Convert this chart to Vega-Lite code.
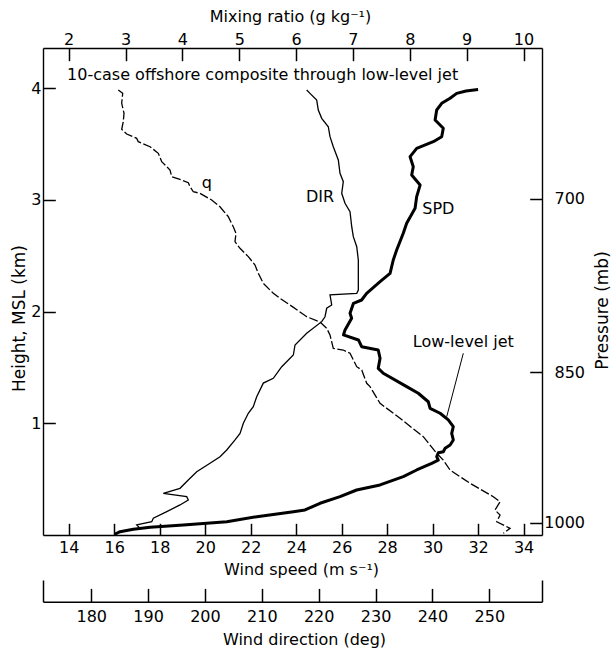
{
  "$schema": "https://vega.github.io/schema/vega-lite/v6.json",
  "width": 499,
  "height": 487,
  "autosize": {"type": "none"},
  "padding": {"left": 43, "top": 48, "right": 70, "bottom": 116},
  "background": "white",
  "config": {
    "view": {"stroke": null},
    "font": "DejaVu Sans",
    "axis": {
      "grid": false,
      "domainColor": "black",
      "domainWidth": 1.4,
      "ticks": true,
      "tickColor": "black",
      "tickOpacity": 1,
      "tickWidth": 1.5,
      "labelColor": "black",
      "titleColor": "black",
      "labelFont": "DejaVu Sans",
      "titleFont": "DejaVu Sans",
      "labelFontSize": 16,
      "titleFontSize": 16,
      "titleFontWeight": "normal",
      "labelFlush": false,
      "labelOverlap": false,
      "labelBound": false
    }
  },
  "datasets": {
    "spd": [
      {"speed": 32.00, "height": 3.989}, {"speed": 31.47, "height": 3.975}, {"speed": 31.06, "height": 3.954},
      {"speed": 30.77, "height": 3.910}, {"speed": 30.40, "height": 3.865}, {"speed": 30.18, "height": 3.805},
      {"speed": 30.11, "height": 3.716}, {"speed": 30.47, "height": 3.641}, {"speed": 30.40, "height": 3.566},
      {"speed": 30.03, "height": 3.521}, {"speed": 29.30, "height": 3.462}, {"speed": 29.01, "height": 3.387},
      {"speed": 29.15, "height": 3.297}, {"speed": 29.08, "height": 3.223}, {"speed": 29.45, "height": 3.133},
      {"speed": 29.30, "height": 3.029}, {"speed": 29.23, "height": 2.925}, {"speed": 28.86, "height": 2.791},
      {"speed": 28.71, "height": 2.701}, {"speed": 28.42, "height": 2.551}, {"speed": 28.27, "height": 2.462},
      {"speed": 28.13, "height": 2.343}, {"speed": 27.69, "height": 2.268}, {"speed": 27.10, "height": 2.164},
      {"speed": 26.88, "height": 2.104}, {"speed": 26.52, "height": 2.074}, {"speed": 26.37, "height": 1.985},
      {"speed": 26.44, "height": 1.940}, {"speed": 26.15, "height": 1.835}, {"speed": 26.08, "height": 1.791},
      {"speed": 26.74, "height": 1.746}, {"speed": 26.88, "height": 1.686}, {"speed": 27.61, "height": 1.656},
      {"speed": 27.69, "height": 1.582}, {"speed": 27.61, "height": 1.492}, {"speed": 27.83, "height": 1.448},
      {"speed": 28.86, "height": 1.328}, {"speed": 29.37, "height": 1.269}, {"speed": 29.81, "height": 1.193},
      {"speed": 29.89, "height": 1.134}, {"speed": 30.33, "height": 1.090}, {"speed": 30.69, "height": 1.030},
      {"speed": 30.91, "height": 0.970}, {"speed": 30.84, "height": 0.910}, {"speed": 30.91, "height": 0.851},
      {"speed": 30.77, "height": 0.806}, {"speed": 30.55, "height": 0.776}, {"speed": 30.47, "height": 0.746},
      {"speed": 30.25, "height": 0.737}, {"speed": 30.18, "height": 0.701}, {"speed": 30.25, "height": 0.671},
      {"speed": 29.96, "height": 0.642}, {"speed": 29.30, "height": 0.582}, {"speed": 28.71, "height": 0.522},
      {"speed": 27.69, "height": 0.448}, {"speed": 26.66, "height": 0.403}, {"speed": 25.93, "height": 0.343},
      {"speed": 25.05, "height": 0.284}, {"speed": 24.39, "height": 0.224}, {"speed": 23.88, "height": 0.209},
      {"speed": 22.27, "height": 0.164}, {"speed": 20.95, "height": 0.119}, {"speed": 19.04, "height": 0.090},
      {"speed": 17.58, "height": 0.069}, {"speed": 16.84, "height": 0.051}, {"speed": 16.26, "height": 0.030},
      {"speed": 16.04, "height": 0.009}
    ],
    "q": [
      {"mixing": 2.872, "height": 3.984}, {"mixing": 2.950, "height": 3.954}, {"mixing": 2.932, "height": 3.865},
      {"mixing": 2.973, "height": 3.775}, {"mixing": 2.960, "height": 3.700}, {"mixing": 2.932, "height": 3.632},
      {"mixing": 3.020, "height": 3.590}, {"mixing": 3.196, "height": 3.551}, {"mixing": 3.224, "height": 3.521},
      {"mixing": 3.430, "height": 3.476}, {"mixing": 3.576, "height": 3.417}, {"mixing": 3.636, "height": 3.342},
      {"mixing": 3.782, "height": 3.268}, {"mixing": 3.812, "height": 3.208}, {"mixing": 3.988, "height": 3.178},
      {"mixing": 4.104, "height": 3.154}, {"mixing": 4.134, "height": 3.118}, {"mixing": 4.192, "height": 3.073},
      {"mixing": 4.310, "height": 3.059}, {"mixing": 4.515, "height": 2.999}, {"mixing": 4.661, "height": 2.939},
      {"mixing": 4.807, "height": 2.850}, {"mixing": 4.895, "height": 2.760}, {"mixing": 4.943, "height": 2.701},
      {"mixing": 4.925, "height": 2.626}, {"mixing": 5.013, "height": 2.567}, {"mixing": 5.159, "height": 2.492},
      {"mixing": 5.277, "height": 2.417}, {"mixing": 5.335, "height": 2.343}, {"mixing": 5.423, "height": 2.253},
      {"mixing": 5.599, "height": 2.164}, {"mixing": 5.717, "height": 2.119}, {"mixing": 5.893, "height": 2.059},
      {"mixing": 6.187, "height": 1.954}, {"mixing": 6.420, "height": 1.907}, {"mixing": 6.538, "height": 1.851},
      {"mixing": 6.596, "height": 1.791}, {"mixing": 6.654, "height": 1.671}, {"mixing": 6.830, "height": 1.656},
      {"mixing": 6.948, "height": 1.627}, {"mixing": 7.066, "height": 1.507}, {"mixing": 7.154, "height": 1.477},
      {"mixing": 7.242, "height": 1.358}, {"mixing": 7.300, "height": 1.328}, {"mixing": 7.476, "height": 1.179},
      {"mixing": 7.828, "height": 1.045}, {"mixing": 8.237, "height": 0.880}, {"mixing": 8.473, "height": 0.731},
      {"mixing": 8.589, "height": 0.671}, {"mixing": 8.707, "height": 0.582}, {"mixing": 9.059, "height": 0.463},
      {"mixing": 9.469, "height": 0.343}, {"mixing": 9.587, "height": 0.298}, {"mixing": 9.499, "height": 0.224},
      {"mixing": 9.587, "height": 0.179}, {"mixing": 9.529, "height": 0.119}, {"mixing": 9.763, "height": 0.060},
      {"mixing": 9.645, "height": 0.015}
    ],
    "dir": [
      {"direction": 217.89, "height": 3.984}, {"direction": 218.47, "height": 3.954}, {"direction": 219.65, "height": 3.894},
      {"direction": 219.93, "height": 3.805}, {"direction": 220.53, "height": 3.730}, {"direction": 221.69, "height": 3.655},
      {"direction": 221.99, "height": 3.566}, {"direction": 222.57, "height": 3.476}, {"direction": 223.45, "height": 3.357},
      {"direction": 223.75, "height": 3.238}, {"direction": 224.33, "height": 3.163}, {"direction": 224.05, "height": 3.059},
      {"direction": 224.63, "height": 2.970}, {"direction": 225.51, "height": 2.894}, {"direction": 225.81, "height": 2.760},
      {"direction": 226.09, "height": 2.671}, {"direction": 226.69, "height": 2.581}, {"direction": 226.97, "height": 2.462},
      {"direction": 226.97, "height": 2.312}, {"direction": 226.97, "height": 2.193}, {"direction": 226.69, "height": 2.164},
      {"direction": 221.99, "height": 2.149}, {"direction": 222.29, "height": 2.059}, {"direction": 221.41, "height": 2.030},
      {"direction": 221.11, "height": 1.954}, {"direction": 220.53, "height": 1.910}, {"direction": 217.89, "height": 1.806},
      {"direction": 215.84, "height": 1.701}, {"direction": 215.54, "height": 1.611}, {"direction": 213.50, "height": 1.507},
      {"direction": 212.02, "height": 1.403}, {"direction": 210.26, "height": 1.360}, {"direction": 209.10, "height": 1.238},
      {"direction": 208.50, "height": 1.149}, {"direction": 207.62, "height": 1.090}, {"direction": 206.75, "height": 1.000},
      {"direction": 206.17, "height": 0.910}, {"direction": 205.29, "height": 0.851}, {"direction": 203.83, "height": 0.761},
      {"direction": 202.65, "height": 0.701}, {"direction": 200.89, "height": 0.642}, {"direction": 198.55, "height": 0.567},
      {"direction": 197.07, "height": 0.492}, {"direction": 195.61, "height": 0.418}, {"direction": 192.68, "height": 0.373},
      {"direction": 196.79, "height": 0.343}, {"direction": 197.07, "height": 0.313}, {"direction": 195.61, "height": 0.269},
      {"direction": 193.28, "height": 0.209}, {"direction": 190.92, "height": 0.150}, {"direction": 190.64, "height": 0.119},
      {"direction": 188.00, "height": 0.090}, {"direction": 188.58, "height": 0.060}, {"direction": 185.06, "height": 0.030},
      {"direction": 184.18, "height": 0.000}
    ],
    "notes": [
      {"speed": 20.07, "height": 3.107, "label": "q"},
      {"speed": 25.05, "height": 2.984, "label": "DIR"},
      {"speed": 30.25, "height": 2.874, "label": "SPD"},
      {"speed": 31.35, "height": 1.686, "label": "Low-level jet"}
    ],
    "heading": [
      {"speed": 13.93, "height": 4.073, "label": "10-case offshore composite through low-level jet"}
    ],
    "leader": [
      {"speed": 31.35, "height": 1.627, "speed2": 30.62, "height2": 1.059}
    ]
  },
  "layer": [
    {
      "layer": [
        {
          "data": {"name": "spd"},
          "mark": {"type": "line", "color": "black", "strokeWidth": 3, "strokeJoin": "round"},
          "encoding": {
            "x": {
              "field": "speed", "type": "quantitative",
              "scale": {"domain": [12.87, 34.81], "nice": false, "zero": false},
              "axis": {
                "orient": "top", "offset": -487, "title": "Wind speed (m s⁻¹)",
                "values": [14, 16, 18, 20, 22, 24, 26, 28, 30, 32, 34], "format": "d",
                "tickSize": 11.7, "labelPadding": -29.4, "labelBaseline": "alphabetic",
                "titleX": 258, "titleY": 39, "titleBaseline": "alphabetic", "titleAlign": "center"
              }
            },
            "y": {
              "field": "height", "type": "quantitative",
              "scale": {"domain": [0, 4.36], "nice": false, "zero": false},
              "axis": {
                "orient": "right", "offset": -499, "title": "Height, MSL (km)",
                "values": [1, 2, 3, 4], "format": "d",
                "tickSize": 12.3, "labelPadding": -14.3, "labelAlign": "right", "labelBaseline": "middle",
                "titleFontSize": 17,
                "titleAngle": 270, "titleX": -19, "titleY": 270, "titleBaseline": "alphabetic", "titleAlign": "center"
              }
            },
            "order": {"field": "height", "sort": "descending"}
          }
        },
        {
          "data": {"name": "notes"},
          "mark": {"type": "text", "align": "center", "baseline": "alphabetic", "fontSize": 16, "font": "DejaVu Sans", "color": "black"},
          "encoding": {
            "x": {"field": "speed", "type": "quantitative", "scale": {"domain": [12.87, 34.81], "nice": false, "zero": false}},
            "y": {"field": "height", "type": "quantitative", "scale": {"domain": [0, 4.36], "nice": false, "zero": false}},
            "text": {"field": "label"}
          }
        },
        {
          "data": {"name": "heading"},
          "mark": {"type": "text", "align": "left", "baseline": "alphabetic", "fontSize": 16, "font": "DejaVu Sans", "color": "black"},
          "encoding": {
            "x": {"field": "speed", "type": "quantitative", "scale": {"domain": [12.87, 34.81], "nice": false, "zero": false}},
            "y": {"field": "height", "type": "quantitative", "scale": {"domain": [0, 4.36], "nice": false, "zero": false}},
            "text": {"field": "label"}
          }
        },
        {
          "data": {"name": "leader"},
          "mark": {"type": "rule", "color": "black", "strokeWidth": 1},
          "encoding": {
            "x": {"field": "speed", "type": "quantitative", "scale": {"domain": [12.87, 34.81], "nice": false, "zero": false}},
            "y": {"field": "height", "type": "quantitative", "scale": {"domain": [0, 4.36], "nice": false, "zero": false}},
            "x2": {"field": "speed2"},
            "y2": {"field": "height2"}
          }
        }
      ]
    },
    {
      "data": {"name": "q"},
      "mark": {"type": "line", "color": "black", "strokeWidth": 1.3, "strokeDash": [9, 2.5]},
      "encoding": {
        "x": {
          "field": "mixing", "type": "quantitative",
          "scale": {"domain": [1.548, 10.325], "nice": false, "zero": false},
          "axis": {
            "orient": "bottom", "offset": -487, "title": "Mixing ratio (g kg⁻¹)",
            "values": [2, 3, 4, 5, 6, 7, 8, 9, 10], "format": "d",
            "tickSize": 12.7, "labelPadding": -16.7, "labelBaseline": "alphabetic",
            "titleX": 247, "titleY": -27, "titleBaseline": "alphabetic", "titleAlign": "center"
          }
        },
        "y": {
          "field": "height", "type": "quantitative",
          "scale": {"domain": [0, 4.36], "nice": false, "zero": false},
          "axis": {
            "orient": "left", "offset": -499, "title": "Pressure (mb)",
            "values": [0.11, 1.457, 3.012],
            "labelExpr": "datum.value < 0.5 ? '1000' : datum.value < 2 ? '850' : '700'",
            "tickSize": 12.3, "labelPadding": -54.8, "labelAlign": "right", "labelBaseline": "middle",
            "titleFontSize": 17,
            "titleAngle": 270, "titleX": 65, "titleY": 262, "titleBaseline": "alphabetic", "titleAlign": "center"
          }
        },
        "order": {"field": "height", "sort": "descending"}
      }
    },
    {
      "data": {"name": "dir"},
      "mark": {"type": "line", "color": "black", "strokeWidth": 1.3},
      "encoding": {
        "x": {
          "field": "direction", "type": "quantitative",
          "scale": {"domain": [171.52, 259.27], "nice": false, "zero": false},
          "axis": {
            "orient": "top", "offset": -553.7, "title": "Wind direction (deg)",
            "values": [171.52, 180, 190, 200, 210, 220, 230, 240, 250, 259.27],
            "labelExpr": "datum.value < 175 || datum.value > 255 ? '' : datum.label",
            "tickSize": {"condition": {"test": "datum.value < 175 || datum.value > 255", "value": 21.7}, "value": 13.3},
            "labelPadding": -33.3, "labelBaseline": "alphabetic",
            "titleX": 261, "titleY": 42.3, "titleBaseline": "alphabetic", "titleAlign": "center"
          }
        },
        "y": {
          "field": "height", "type": "quantitative",
          "scale": {"domain": [0, 4.36], "nice": false, "zero": false},
          "axis": null
        },
        "order": {"field": "height", "sort": "descending"}
      }
    }
  ],
  "resolve": {
    "scale": {"x": "independent"},
    "axis": {"x": "independent", "y": "independent"}
  }
}
